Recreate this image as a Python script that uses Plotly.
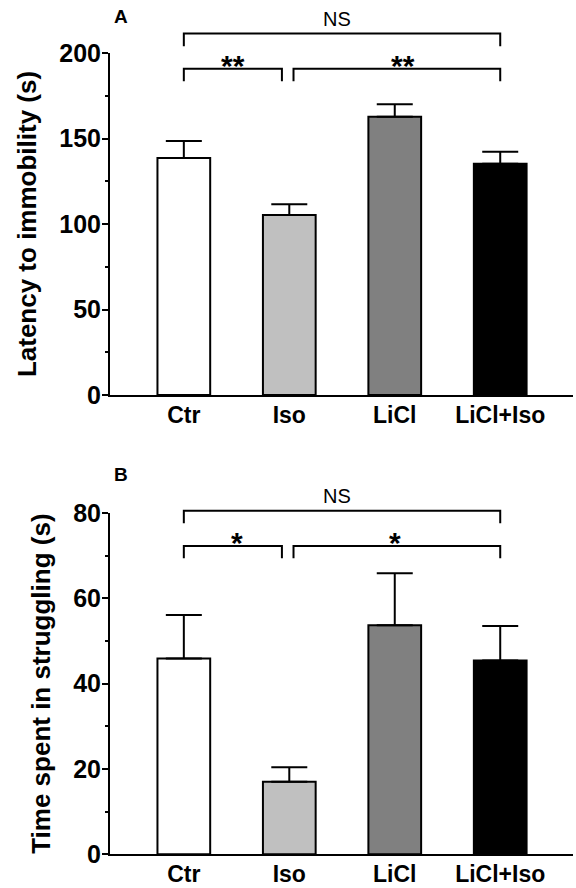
import plotly.graph_objects as go

categories = ["Ctr", "Iso", "LiCl", "LiCl+Iso"]
bar_colors = ["#ffffff", "#c0c0c0", "#808080", "#000000"]

latency_values = [138.6, 105.3, 162.7, 135.3]
latency_errors = [10.0, 6.3, 7.3, 6.9]

struggle_values = [45.9, 17.0, 53.7, 45.4]
struggle_errors = [10.2, 3.4, 12.2, 8.1]

yticks_a = [0, 50, 100, 150, 200]
yticks_b = [0, 20, 40, 60, 80]

FONT = "Liberation Sans, Arial, Helvetica, sans-serif"
W, H = 576, 888
ML, MR = 110, 3
XR = [-0.7, 3.69]
DOM_A = [1 - 395 / H, 1 - 53 / H]
DOM_B = [1 - 854.3 / H, 1 - 513 / H]
RANGE_A = [0, 200]
RANGE_B = [0, 80]

fig = go.Figure()

def add_bars(vals, errs, xa, ya):
    fig.add_trace(go.Bar(
        x=categories, y=vals, xaxis=xa, yaxis=ya, width=0.5,
        marker=dict(color=bar_colors, line=dict(color="black", width=2)),
        error_y=dict(type="data", array=errs, arrayminus=[0] * len(errs),
                     symmetric=False, color="black", thickness=2, width=18),
        showlegend=False, hoverinfo="skip"))

add_bars(latency_values, latency_errors, "x", "y")
add_bars(struggle_values, struggle_errors, "x2", "y2")

def px(i):
    return (i - XR[0]) / (XR[1] - XR[0])

def py(v, dom, rng):
    return dom[0] + (v - rng[0]) / (rng[1] - rng[0]) * (dom[1] - dom[0])

shapes = []
annotations = []

def bracket(x0, x1, ytop, yend, dom, rng):
    path = "M {a},{b} L {a},{c} L {d},{c} L {d},{b}".format(
        a=px(x0), b=py(yend, dom, rng), c=py(ytop, dom, rng), d=px(x1))
    shapes.append(dict(type="path", path=path, xref="paper", yref="paper",
                       line=dict(color="black", width=2)))

def label(text, x, y, dom, rng, size, bold):
    annotations.append(dict(text=text, x=px(x), y=py(y, dom, rng), xref="paper", yref="paper",
                            showarrow=False, xanchor="center", yanchor="middle",
                            font=dict(family=FONT, size=size, color="black",
                                      weight="bold" if bold else "normal")))

# Panel A brackets
bracket(0, 3, 211.4, 204.0, DOM_A, RANGE_A)
bracket(0, 0.93, 190.8, 183.5, DOM_A, RANGE_A)
bracket(1.04, 3, 190.8, 183.5, DOM_A, RANGE_A)
label("NS", 1.45, 219.6, DOM_A, RANGE_A, 20, False)
label("**", 0.466, 192.5, DOM_A, RANGE_A, 30, True)
label("**", 2.08, 192.5, DOM_A, RANGE_A, 30, True)

# Panel B brackets
bracket(0, 3, 80.5, 77.6, DOM_B, RANGE_B)
bracket(0, 0.93, 72.25, 69.4, DOM_B, RANGE_B)
bracket(1.04, 3, 72.25, 69.4, DOM_B, RANGE_B)
label("NS", 1.45, 84.0, DOM_B, RANGE_B, 20, False)
label("*", 0.5, 73.0, DOM_B, RANGE_B, 30, True)
label("*", 2.0, 73.0, DOM_B, RANGE_B, 30, True)

annotations.append(dict(text="A", x=14 / W, y=1 - 16.5 / H, xref="paper", yref="paper",
                        showarrow=False, xanchor="center", yanchor="middle",
                        font=dict(family=FONT, size=19, color="black", weight="bold")))
annotations.append(dict(text="B", x=14 / W, y=1 - 474 / H, xref="paper", yref="paper",
                        showarrow=False, xanchor="center", yanchor="middle",
                        font=dict(family=FONT, size=19, color="black", weight="bold")))

tickfont = dict(family=FONT, size=25, color="black", weight="bold")
xtickfont = dict(family=FONT, size=23, color="black", weight="bold")
titlefont = dict(family=FONT, size=26, color="black", weight="bold")

def xaxis(anchor):
    return dict(domain=[0, 1], range=XR, type="category", anchor=anchor,
                showline=True, linecolor="black", linewidth=2, ticks="",
                showgrid=False, zeroline=False, tickfont=xtickfont, ticklabelstandoff=-2,
                fixedrange=True)

def yaxis(anchor, dom, rng, tv, title, minor_dt):
    return dict(domain=dom, range=rng, anchor=anchor, tickvals=tv,
                showline=True, linecolor="black", linewidth=2,
                ticks="outside", ticklen=6, tickwidth=2, tickcolor="black",
                minor=dict(ticks="outside", ticklen=3, tickwidth=2, tickcolor="black",
                           dtick=minor_dt, tick0=0, showgrid=False),
                showgrid=False, zeroline=False, tickfont=tickfont, ticklabelstandoff=-4,
                title=dict(text=title, font=titlefont, standoff=15),
                fixedrange=True)

fig.update_layout(
    width=W, height=H,
    margin=dict(l=ML, r=MR, t=0, b=0, autoexpand=False),
    paper_bgcolor="white", plot_bgcolor="white",
    xaxis=xaxis("y"), yaxis=yaxis("x", DOM_A, RANGE_A, yticks_a, "Latency to immobility (s)", 25),
    xaxis2=xaxis("y2"), yaxis2=yaxis("x2", DOM_B, RANGE_B, yticks_b, "Time spent in struggling (s)", 10),
    shapes=shapes, annotations=annotations, bargap=0.5, showlegend=False,
)

fig.write_html("out.html",
               config={"displayModeBar": False},
               post_script="document.body.style.margin='0';document.body.style.padding='0';"
                           "document.body.style.overflow='hidden';")
